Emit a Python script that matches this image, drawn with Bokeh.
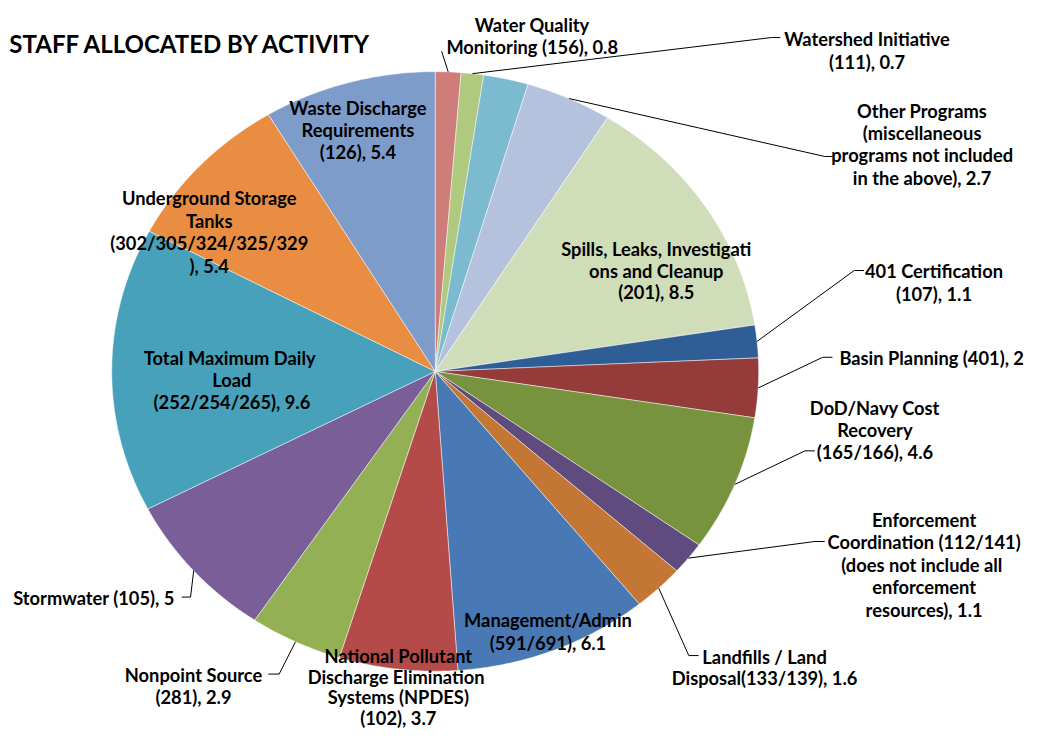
import numpy as np
from bokeh.plotting import figure
from bokeh.models import Range1d, ColumnDataSource
from bokeh.core.properties import value
from bokeh.embed import file_html
from bokeh.resources import INLINE

# ---------------- data ----------------
title = "STAFF ALLOCATED BY ACTIVITY"
categories = [
    "Water Quality\nMonitoring (156)",
    "Watershed Initiative\n(111)",
    "",
    "Other Programs\n(miscellaneous\nprograms not included\nin the above)",
    "Spills, Leaks, Investigati\nons and Cleanup\n(201)",
    "401 Certification\n(107)",
    "Basin Planning  (401)",
    "DoD/Navy Cost\nRecovery\n(165/166)",
    "Enforcement\nCoordination (112/141)\n(does not include  all\nenforcement\nresources)",
    "Landfills / Land\nDisposal(133/139)",
    "Management/Admin\n(591/691)",
    "National Pollutant\nDischarge  Elimination\nSystems (NPDES)\n(102)",
    "Nonpoint Source\n(281)",
    "Stormwater (105)",
    "Total Maximum  Daily\nLoad\n(252/254/265)",
    "Underground Storage\nTanks\n(302/305/324/325/329\n)",
    "Waste Discharge\nRequirements\n(126)",
]
values = [0.8, 0.7, 1.4, 2.7, 8.5, 1.1, 2.0, 4.6, 1.1, 1.6, 6.1, 3.7, 2.9, 5.0, 9.6, 5.4, 5.4]
colors = ["#CF7D7B", "#AFC97F", "#7CBAD0", "#B4C2DE", "#D0DDB9", "#2F5E96",
          "#953B39", "#78933E", "#5F4B7E", "#C47634", "#4979B4", "#B54B49",
          "#93B055", "#795E98", "#47A1BA", "#E98D43", "#7E9CCA"]

# ---------------- layout (reference pixel space) ----------------
CX, CY, RX, RY = 441.5, 380.5, 328.5, 307.5
FONT = value("Lato")
FSIZE = "18.3px"

# label anchor: (x, first baseline y, align, line height)
label_pos = [
    (540, 25, "center", 23), (880, 40, "center", 23), None, (936, 113, "center", 23),
    (666, 255, "center", 22), (948, 278, "center", 23), (852, 367, "left", 23),
    (888, 418, "center", 22.5), (938, 533, "center", 23), (776, 673, "center", 22.5),
    (556, 636, "center", 23), (404, 672, "center", 21.5), (196, 692, "center", 22),
    (177, 613, "right", 23), (235, 367, "center", 22.5), (212, 203, "center", 23),
    (363, 110, "center", 22.5),
]
# leader lines: points after the pie-edge point
leaders = [
    [(448, 52)], [(783, 38), (792, 38)], None, [(837, 160), (845, 160)],
    None, [(867, 277), (877, 277)], [(835, 366), (845, 366)],
    [(817, 462), (827, 462)], [(827, 555), (837, 555)], [(699, 672), (709, 672)],
    None, None, [(283, 691), (272, 691)], [(193, 612), (184, 612)],
    None, None, None,
]

# ---------------- figure ----------------
W, H = 1026, 735
p = figure(width=W, height=H, x_range=Range1d(0, 1042), y_range=Range1d(754, 0),
           output_backend="svg", toolbar_location=None, min_border=0)
p.axis.visible = False
p.grid.visible = False
p.outline_line_color = None
p.background_fill_color = "white"
p.border_fill_color = "white"

total = float(sum(values))
cum = np.concatenate([[0.0], np.cumsum(values)]) / total * 2 * np.pi

xs, ys = [], []
for i in range(len(values)):
    a0, a1 = cum[i], cum[i + 1]
    n = max(6, int(np.degrees(a1 - a0) * 2))
    t = np.linspace(a0, a1, n)
    px = np.concatenate([[CX], CX + RX * np.sin(t)])
    py = np.concatenate([[CY], CY - RY * np.cos(t)])
    xs.append(px.tolist())
    ys.append(py.tolist())

p.patches(xs="xs", ys="ys", fill_color="color", line_color="white", line_width=0.8,
          line_alpha=0.6, source=ColumnDataSource(dict(xs=xs, ys=ys, color=colors)))

# leader lines
lx, ly = [], []
for i, ld in enumerate(leaders):
    if ld is None:
        continue
    mid = (cum[i] + cum[i + 1]) / 2
    ex, ey = CX + RX * np.sin(mid), CY - RY * np.cos(mid)
    lx.append([ex] + [q[0] for q in ld])
    ly.append([ey] + [q[1] for q in ld])
p.multi_line(xs=lx, ys=ly, line_color="black", line_width=1)

# labels
tx, ty, tt, ta = [], [], [], []
for i, pos in enumerate(label_pos):
    if pos is None:
        continue
    text = categories[i] + ", " + ("%g" % values[i])
    for j, line in enumerate(text.split("\n")):
        tx.append(pos[0])
        ty.append(pos[1] + j * pos[3])
        tt.append(line)
        ta.append(pos[2])
p.text(x="x", y="y", text="text", text_align="align", text_baseline="alphabetic",
       text_font=FONT, text_font_style="bold", text_font_size=FSIZE, text_color="black",
       source=ColumnDataSource(dict(x=tx, y=ty, text=tt, align=ta)))

# title
p.text(x=[9], y=[44], text=[title], text_align="left", text_baseline="alphabetic",
       text_font=FONT, text_font_style="bold", text_font_size="24px", text_color="black")

open("out.html", "w").write(file_html(p, INLINE))
